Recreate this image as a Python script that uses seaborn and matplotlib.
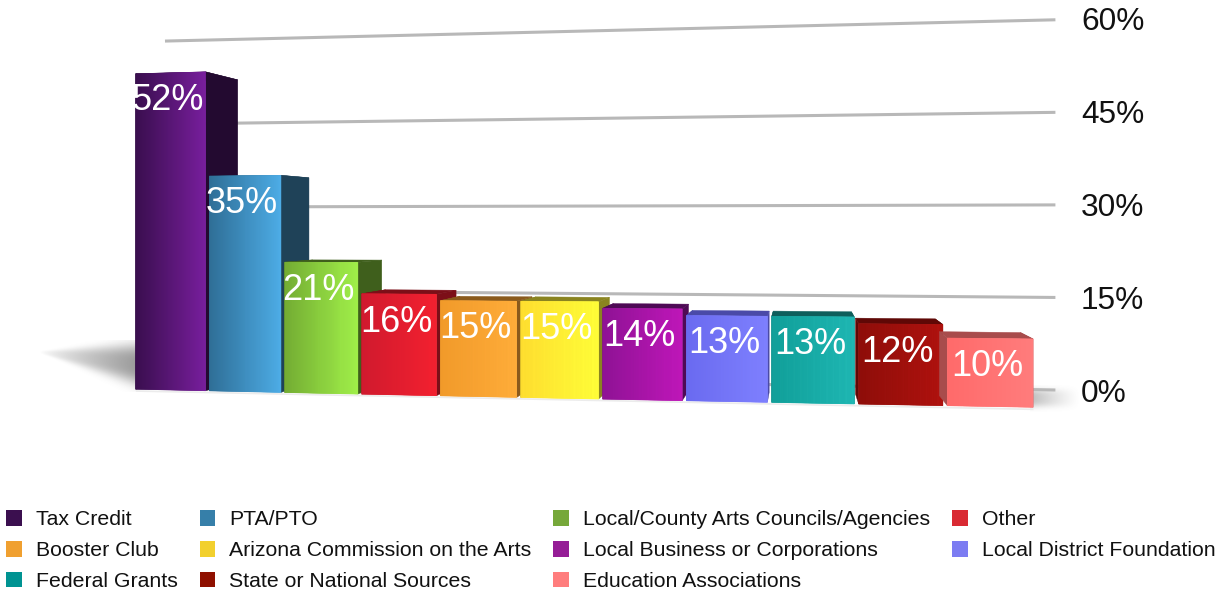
import numpy as np
import pandas as pd
import matplotlib
matplotlib.use("Agg")
import matplotlib.pyplot as plt
import seaborn as sns
from matplotlib.colors import to_rgb
from matplotlib.lines import Line2D
from matplotlib.patches import Patch, Polygon, Rectangle
from matplotlib.transforms import Transform, IdentityTransform

sources = ["Tax Credit", "PTA/PTO", "Local/County Arts Councils/Agencies", "Other",
           "Booster Club", "Arizona Commission on the Arts", "Local Business or Corporations",
           "Local District Foundation", "Federal Grants", "State or National Sources",
           "Education Associations"]
shares = [52, 35, 21, 16, 15, 15, 14, 13, 13, 12, 10]
legend_colors = ["#3b0f4f", "#367fa9", "#76a83a", "#d92a33", "#f0a030", "#f2d02e",
                 "#951d96", "#7c7cf2", "#009392", "#8f1000", "#ff7d7d"]
dark_edge = ["#3a0f4f", "#2f6e96", "#74ad33", "#d01a2e", "#f29a2a", "#ffdf30",
             "#8f1295", "#6a6af0", "#12a09a", "#8f0d0a", "#ff6a6a"]
light_edge = ["#7b1fa0", "#4eaee8", "#a2f24a", "#f4202f", "#ffad3a", "#ffff38",
              "#c016ba", "#7e80ff", "#20b8b4", "#b0120f", "#ff7c7c"]
side_colors = ["#230a30", "#1f4258", "#3f5f1c", "#7c0f18", "#8a5a1c", "#8a8420",
               "#4e0a55", "#4a4aa8", "#0e5f5c", "#5f0806", "#a84c4c"]
tick_values = [0, 15, 30, 45, 60]
tick_labels = ["0%", "15%", "30%", "45%", "60%"]

W, H = 1225, 592
plt.rcParams["font.family"] = ["Liberation Sans", "DejaVu Sans"]


def px_x(u):
    return 170.5 + 73.65 * u + 0.83 * u * u


class FrontPlane(Transform):
    """Perspective of the plane holding the bar fronts: (category, %) to display."""
    input_dims = output_dims = 2
    is_affine = False
    has_inverse = False

    def transform_non_affine(self, values):
        v = np.asarray(values, dtype=float)
        u, p = v[:, 0], v[:, 1]
        return np.column_stack([px_x(u), H - (390 + 1.65 * u - p * (6.1 + 0.07 * u))])


class BackWall(Transform):
    """Perspective of the wall holding the gridlines: (category, %) to display."""
    input_dims = output_dims = 2
    is_affine = False
    has_inverse = False

    def transform_non_affine(self, values):
        v = np.asarray(values, dtype=float)
        u, p = v[:, 0], v[:, 1]
        x = px_x(u)
        slope = 0.019 - p * 0.000715
        return np.column_stack([x, H - (390 - p * 6.17 - (1055 - x) * slope)])


front = FrontPlane()
wall = BackWall()
VX, VY, K = 800.0, H - 220.0, 0.054


def deepen(pt):
    return pt + (np.array([VX, VY]) - pt) * K


fig = plt.figure(figsize=(W / 100, H / 100), dpi=100, facecolor="white")
ax = fig.add_axes([0, 0, 1, 1])

df = pd.DataFrame({"source": sources, "share": shares})
sns.barplot(data=df, x="source", y="share", hue="source", order=sources, hue_order=sources,
            palette=legend_colors, width=0.95, dodge=False, legend=False, saturation=1, ax=ax)

# gridlines and axis labels on the back wall
for val, lab in zip(tick_values, tick_labels):
    ax.add_line(Line2D([-0.075, 10.72], [val, val], color="#b8b8b8", lw=2.2, transform=wall,
                       solid_capstyle="butt", zorder=1))
    ax.annotate(lab, xy=(11.0, val), xycoords=wall, xytext=(0, -2.2), textcoords="offset points",
                fontsize=22.8, color="#111111", ha="left", va="center", zorder=2)


def shadow_image(x0, x1, y0, y1, func):
    xs = np.linspace(x0, x1, 200)
    ys = np.linspace(y0, y1, 100)
    X, Y = np.meshgrid(xs, ys)
    rgba = np.zeros(X.shape + (4,))
    rgba[..., :3] = 0.35
    rgba[..., 3] = func(X, Y)
    ax.imshow(rgba, extent=(x0, x1, H - y1, H - y0), origin="upper", aspect="auto",
              transform=IdentityTransform(), zorder=0.5, interpolation="bilinear")


def left_shadow(X, Y):
    t = np.clip((X - 40) / 96.0, 0, 1)
    c = 352 + 12 * t
    half = 1 + 19 * t
    return 0.6 * t ** 0.8 * np.exp(-np.abs((Y - c) / half) ** 3)


def right_shadow(X, Y):
    t = np.clip((1080 - X) / 50.0, 0, 1)
    return 0.4 * t ** 1.2 * np.exp(-np.abs((Y - 398) / 9.0) ** 3)


shadow_image(36, 136, 340, 392, left_shadow)
shadow_image(1030, 1080, 385, 412, right_shadow)

# soft contact shadow beneath the bars
ax.add_line(Line2D([-0.46, 10.47], [-0.3, -0.3], color="#ececec", lw=1.2, transform=front, zorder=2))

bars = sorted(ax.patches, key=lambda b: b.get_x())
bars = [b for b in bars if isinstance(b, Rectangle)][:len(shares)]
for i, bar in enumerate(bars):
    x0, w, h = bar.get_x(), bar.get_width(), bar.get_height()
    x1 = x0 + w
    z = 10 + i
    bar.set_transform(front)
    bar.set_zorder(z + 0.1)
    bar.set_clip_on(False)

    bl, br, tr, tl = front.transform(np.array([[x0, 0], [x1, 0], [x1, h], [x0, h]]))
    faces = [
        (br, tr, deepen(tr), deepen(br)),
        (bl, tl, deepen(tl), deepen(bl)),
        (tl, tr, deepen(tr), deepen(tl)),
    ]
    for face in faces:
        ax.add_artist(Polygon(np.array(face), closed=True, transform=IdentityTransform(),
                              facecolor=side_colors[i], edgecolor=side_colors[i], lw=0.3,
                              zorder=z, clip_on=False))

    # horizontal gradient across the bar front
    n = 70
    xs = np.linspace(x0, x1, n + 1)
    c0, c1 = np.array(to_rgb(dark_edge[i])), np.array(to_rgb(light_edge[i]))
    for j in range(n):
        col = c0 + (c1 - c0) * (j / (n - 1))
        ax.add_artist(Rectangle((xs[j], 0), xs[j + 1] - xs[j], h, transform=front, facecolor=col,
                                edgecolor=col, lw=0.4, zorder=z + 0.2, clip_on=False))

    ax.annotate(f"{h:.0f}%", xy=(x0 + w / 2, h), xycoords=front,
                xytext=(-2, -20.2), textcoords="offset points", color="white",
                fontsize=26, ha="center", va="center", zorder=40)

ax.set_xlim(-1, 11)
ax.set_ylim(0, 60)
ax.set_axis_off()

order = [0, 4, 8, 1, 5, 9, 2, 6, 10, 3, 7]
handles = [Patch(facecolor=legend_colors[k], edgecolor="none", label=sources[k]) for k in order]
ax.legend(handles=handles, ncol=4, loc="lower left", bbox_to_anchor=(6 / W, 1 / H),
          bbox_transform=fig.transFigure, frameon=False, fontsize=15.3, borderpad=0,
          borderaxespad=0, handlelength=0.75, handleheight=0.75, handletextpad=0.66,
          columnspacing=1.02, labelspacing=0.547, labelcolor="#111111")

fig.savefig("out.png", dpi=100, facecolor="white")
